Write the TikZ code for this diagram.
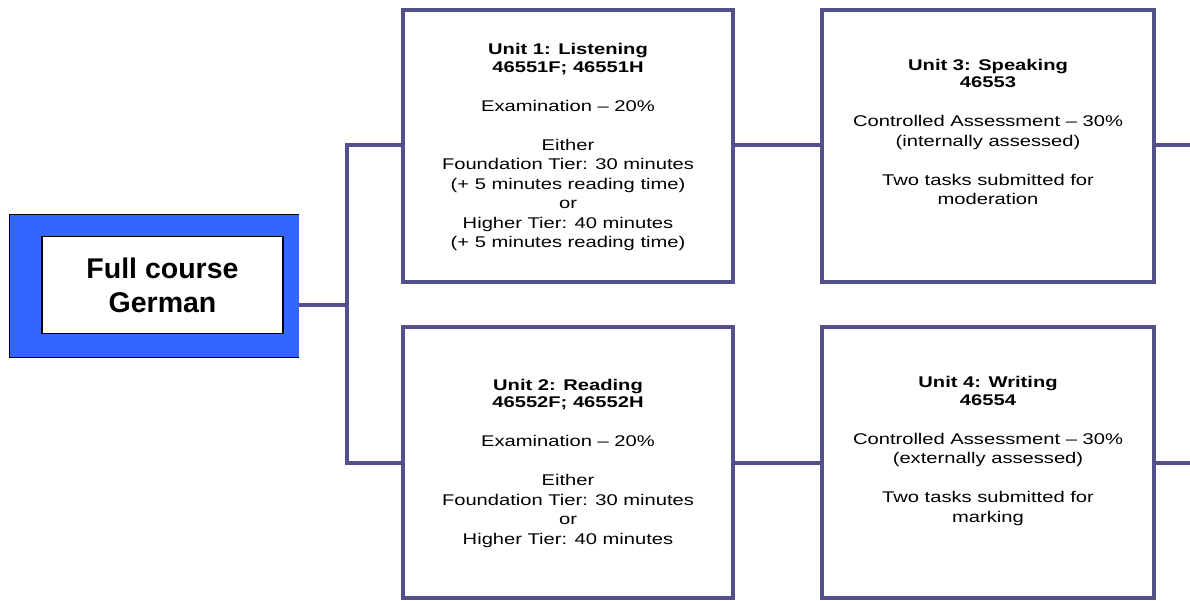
\documentclass[tikz,border=0pt]{standalone}
\usepackage{fontspec}
\setmainfont{Liberation Sans}[FakeStretch=1.3]
\newfontfamily\plainsans{Liberation Sans}
\definecolor{navy}{RGB}{84,80,140}
\definecolor{courseblue}{RGB}{51,102,255}
\begin{document}
\begin{tikzpicture}[x=1pt,y=-1pt,
  unitbox/.style={draw=navy,line width=4pt,fill=white,minimum width=330pt,inner sep=0pt},
  unittext/.style={align=center,font=\fontsize{15.5}{19.5}\selectfont,inner sep=0pt},
  conn/.style={draw=navy,line width=4pt}]
\useasboundingbox (0,0) rectangle (1190,601);
% course box
\node[fill=courseblue,minimum width=289pt,minimum height=142pt,inner sep=0pt] (course) at (154.5,286) {};
\draw[line width=1.3pt] (course.north east) -- (course.north west) -- (course.south west) -- (course.south east);
\node[draw,line width=1.3pt,fill=white,minimum width=241pt,minimum height=97pt,inner sep=0pt,align=center,
  font=\plainsans\fontsize{28.5}{34}\selectfont\bfseries] (coursetext) at (162.5,285) {Full course\\German};
% unit boxes
\node[unitbox,minimum height=272pt] (u1) at (568,146) {};
\node[unitbox,minimum height=271pt] (u2) at (568,462.5) {};
\node[unitbox,minimum width=332pt,minimum height=272pt] (u3) at (988,146) {};
\node[unitbox,minimum width=332pt,minimum height=271pt] (u4) at (988,462.5) {};
% texts
\node[unittext] (t1) at (568,147) {\textbf{Unit 1: Listening}\\[-2pt]\textbf{46551F; 46551H}\\[19.5pt]Examination – 20\%\\[19.5pt]Either\\Foundation Tier: 30 minutes\\(+ 5 minutes reading time)\\or\\Higher Tier: 40 minutes\\(+ 5 minutes reading time)};
\node[unittext] (t2) at (568,463) {\textbf{Unit 2: Reading}\\[-2pt]\textbf{46552F; 46552H}\\[19.5pt]Examination – 20\%\\[19.5pt]Either\\Foundation Tier: 30 minutes\\or\\Higher Tier: 40 minutes};
\node[unittext] (t3) at (988,132) {\textbf{Unit 3: Speaking}\\[-2pt]\textbf{46553}\\[19.5pt]Controlled Assessment – 30\%\\(internally assessed)\\[19.5pt]Two tasks submitted for\\moderation};
\node[unittext] (t4) at (988,451) {\textbf{Unit 4: Writing}\\[-2pt]\textbf{46554}\\[19.5pt]Controlled Assessment – 30\%\\(externally assessed)\\[19.5pt]Two tasks submitted for\\marking};
% connectors
\coordinate (jm) at (347,305);
\coordinate (jt) at (347,145);
\coordinate (jb) at (347,463);
\coordinate (rt) at (1190,145);
\coordinate (rb) at (1190,463);
\draw[conn] (jm -| course.east) -- (jm);
\draw[conn,line cap=rect] (jt) -- (jb);
\draw[conn] (jt) -- (jt -| u1.west);
\draw[conn] (jb) -- (jb -| u2.west);
\draw[conn] (jt -| u1.east) -- (jt -| u3.west);
\draw[conn] (jb -| u2.east) -- (jb -| u4.west);
\draw[conn] (jt -| u3.east) -- (rt);
\draw[conn] (jb -| u4.east) -- (rb);
\end{tikzpicture}
\end{document}
